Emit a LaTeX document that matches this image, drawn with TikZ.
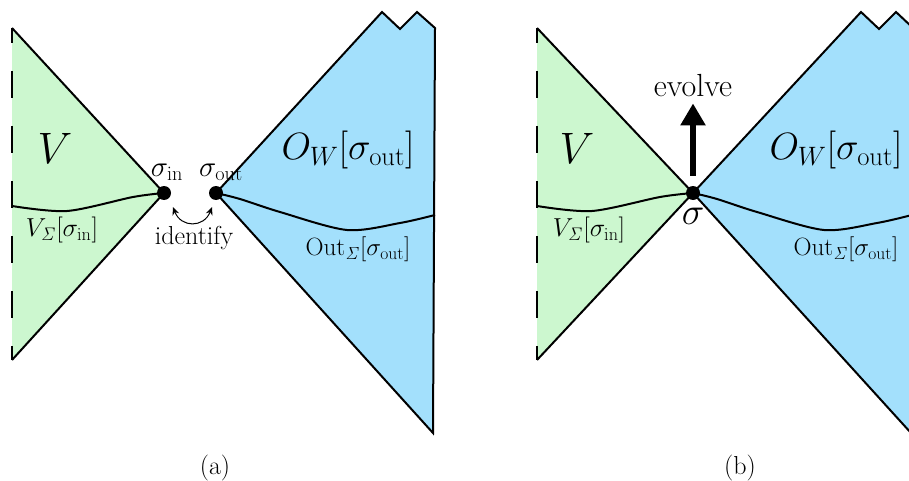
\RequirePackage{fix-cm}
\documentclass[tikz,border=0pt]{standalone}
\usepackage{amsmath}
\usetikzlibrary{arrows.meta}
\definecolor{conegreen}{RGB}{204,247,207}
\definecolor{coneblue}{RGB}{163,224,252}

\begin{document}
\begin{tikzpicture}[x=1pt, y=-1pt,
    edge/.style={line width=2pt, line join=miter},
    nullb/.style={edge, dash pattern=on 27pt off 28pt, dash phase=12pt},
    dot/.style={circle, fill=black, inner sep=0pt, minimum size=14pt},
    lbl/.style={inner sep=0pt, font=\fontsize{#1}{#1}\selectfont}
]
\useasboundingbox (0,0) rectangle (909,481);
\clip (0,0) rectangle (909,481);

% (a) the two cones, side by side
\fill[conegreen] (12,28) -- (164,193) -- (12,360) -- cycle;
\fill[coneblue] (216,193) -- (382,12) -- (400,29) -- (417,12) -- (435,28) -- (433,433) -- cycle;
\draw[edge] (12,28) -- (164,193) -- (12,360);
\draw[nullb] (12,28) -- (12,360);
\draw[edge] (216,193) -- (382,12) -- (400,29) -- (417,12) -- (435,28) -- (433,433) -- cycle;
\draw[edge] plot[smooth] coordinates {(12,206) (67,211) (133,197) (164,193)};
\draw[edge] plot[smooth] coordinates {(216,193) (240,199) (280,212) (347,230) (400,223) (435,215)};

\node[dot] (sin)  at (164,193) {};
\node[dot] (sout) at (216,193) {};
\node[lbl=44] (va)   at (55,148)  {$V$};
\node[lbl=38] (owa)  at (348,150) {$O_{W}[\sigma_{\mathrm{out}}]$};
\node[lbl=26] (vsa)  at (62,230)  {$V_{\mathit{\Sigma}}[\sigma_{\mathrm{in}}]$};
\node[lbl=25] (outa) at (358,249) {$\mathrm{Out}_{\mathit{\Sigma}}[\sigma_{\mathrm{out}}]$};
\node[lbl=29] (lin)  at (167,172) {$\sigma_{\mathrm{in}}$};
\node[lbl=29] (lout) at (221,172) {$\sigma_{\mathrm{out}}$};
\node[lbl=26] (ident) at (194,238) {identify};
\coordinate (ia) at (173,207);
\coordinate (ib) at (212,207);
\draw[{Stealth[length=8pt,width=7pt]}-{Stealth[length=8pt,width=7pt]}, line width=1pt]
    (ia) .. controls (181,228) and (204,228) .. (ib);
\node[lbl=26] (capa) at (215,468) {(a)};

% (b) glued at one point
\fill[conegreen] (537,28) -- (693,193) -- (537,360) -- cycle;
\fill[coneblue] (693,193) -- (861,12) -- (879,29) -- (896,12) -- (913,28) -- (911,433) -- cycle;
\draw[edge] (537,28) -- (693,193) -- (537,360);
\draw[nullb] (537,28) -- (537,360);
\draw[edge] (693,193) -- (861,12) -- (879,29) -- (896,12) -- (913,28) -- (911,433) -- cycle;
\draw[edge] plot[smooth] coordinates {(537,206) (592,211) (660,197) (693,193)};
\draw[edge] plot[smooth] coordinates {(693,193) (717,199) (757,212) (824,230) (877,223) (912,215)};

\node[dot] (sig) at (693,193) {};
\node[lbl=44] (vb)   at (577,148) {$V$};
\node[lbl=38] (owb)  at (836,150) {$O_{W}[\sigma_{\mathrm{out}}]$};
\node[lbl=26] (vsb)  at (589,230) {$V_{\mathit{\Sigma}}[\sigma_{\mathrm{in}}]$};
\node[lbl=25] (outb) at (846,249) {$\mathrm{Out}_{\mathit{\Sigma}}[\sigma_{\mathrm{out}}]$};
\node[lbl=38] (lsig) at (693,216) {$\sigma$};
\node[lbl=32] (evo)  at (693,86)  {evolve};
\draw[-{Triangle[length=22pt,width=24pt]}, line width=6.5pt]
    ([yshift=10pt]sig.north) -- ([yshift=-6pt]evo.south);
\node[lbl=26] (capb) at (740,468) {(b)};
\end{tikzpicture}
\end{document}
